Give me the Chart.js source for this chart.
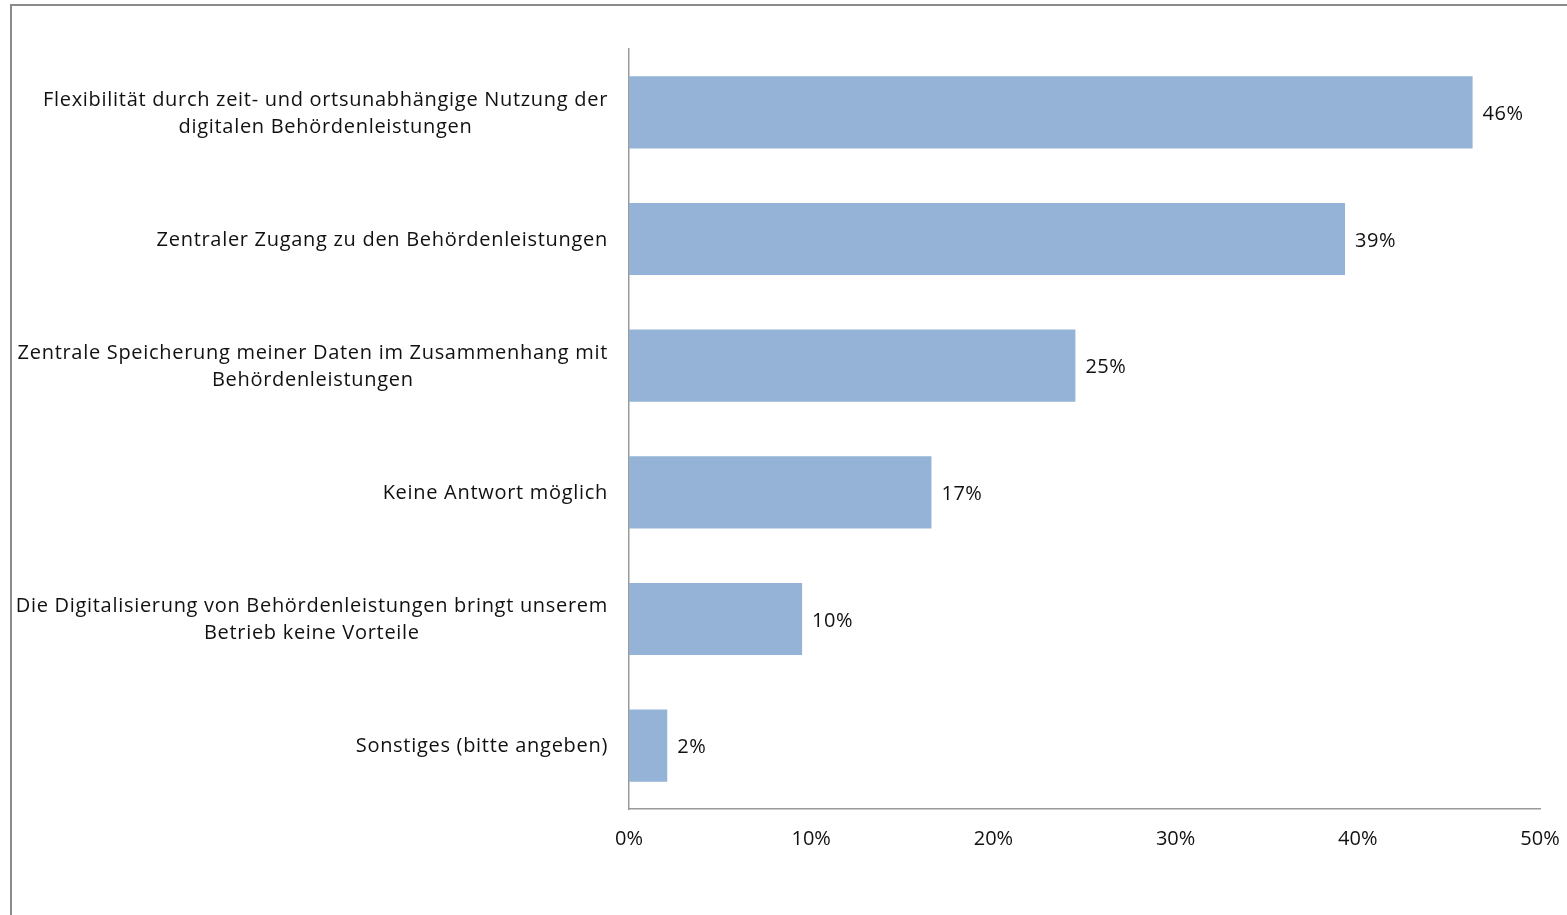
<!DOCTYPE html>
<html lang="de">
<head>
<meta charset="utf-8">
<title>Vorteile digitaler Behördenleistungen</title>
<script src="https://cdn.jsdelivr.net/npm/chart.js@4/dist/chart.umd.min.js"></script>
<style>
  html, body { margin: 0; padding: 0; background: #fff; }
  #wrap { position: relative; width: 1567px; height: 915px; overflow: hidden; }
  #cadre {
    position: absolute; left: 10px; top: 4px; width: 1600px; height: 1000px;
    border-top: 2px solid #8a8a8a; border-left: 2px solid #8a8a8a;
  }
  #vorteileChart { position: absolute; left: 0; top: 0; }
</style>
</head>
<body>
<div id="wrap">
  <div id="cadre"></div>
  <canvas id="vorteileChart" width="1567" height="915"></canvas>
</div>
<script>
// ==========================
// Données : réponses en % (plusieurs réponses possibles)
// ==========================
const kategorien = [
  ["Flexibilität durch zeit- und ortsunabhängige Nutzung der", "digitalen Behördenleistungen"],
  ["Zentraler Zugang zu den Behördenleistungen"],
  ["Zentrale Speicherung meiner Daten im Zusammenhang mit", "Behördenleistungen"],
  ["Keine Antwort möglich"],
  ["Die Digitalisierung von Behördenleistungen bringt unserem", "Betrieb keine Vorteile"],
  ["Sonstiges (bitte angeben)"]
];
const anteile = [46.3, 39.3, 24.5, 16.6, 9.5, 2.1];
const achsenTicks = [0, 10, 20, 30, 40, 50];

const schrift = "'Open Sans', 'Noto Sans', sans-serif";
const textFarbe = "#111";

// ==========================
// Plugin : libellés des catégories (lignes centrées, bloc aligné à droite)
// ==========================
const kategorieLabels = {
  id: "kategorieLabels",
  afterDraw(chart) {
    const { ctx } = chart;
    const y = chart.scales.y;
    const rechts = chart.chartArea.left - 21;
    ctx.save();
    ctx.font = "20px " + schrift;
    ctx.letterSpacing = "0.7px";
    ctx.fillStyle = textFarbe;
    ctx.textAlign = "center";
    ctx.textBaseline = "middle";
    kategorien.forEach((zeilen, i) => {
      const breite = Math.max(...zeilen.map(z => ctx.measureText(z).width));
      const mitte = y.getPixelForTick(i) + 1;
      const x = rechts - breite / 2;
      const hoehe = 27;
      zeilen.forEach((z, j) => {
        ctx.fillText(z, x, mitte + (j - (zeilen.length - 1) / 2) * hoehe);
      });
    });
    ctx.restore();
  }
};

// ==========================
// Plugin : valeurs au bout des barres
// ==========================
const wertLabels = {
  id: "wertLabels",
  afterDatasetsDraw(chart) {
    const { ctx } = chart;
    const meta = chart.getDatasetMeta(0);
    ctx.save();
    ctx.font = "20px " + schrift;
    ctx.letterSpacing = "0.5px";
    ctx.fillStyle = textFarbe;
    ctx.textAlign = "left";
    ctx.textBaseline = "middle";
    meta.data.forEach((bar, i) => {
      ctx.fillText(Math.round(anteile[i]) + "%", bar.x + 10, bar.y + 2);
    });
    ctx.restore();
  }
};

// ==========================
// Graph
// ==========================
new Chart(document.getElementById("vorteileChart"), {
  type: "bar",
  data: {
    labels: kategorien,
    datasets: [{
      data: anteile,
      backgroundColor: "#95b3d7",
      barPercentage: 0.57,
      categoryPercentage: 1
    }]
  },
  options: {
    indexAxis: "y",
    responsive: false,
    animation: false,
    layout: { padding: { top: 49, right: 27, left: 0, bottom: 0 } },
    plugins: { legend: { display: false }, tooltip: { enabled: false } },
    scales: {
      x: {
        min: 0,
        max: 50,
        afterBuildTicks: s => { s.ticks = achsenTicks.map(v => ({ value: v })); },
        afterFit: s => { s.height = 106; s.paddingLeft = 0; s.paddingRight = 0; },
        grid: { display: false, drawTicks: false },
        border: { display: true, color: "#9a9a9a", width: 1.5 },
        ticks: {
          padding: 18,
          color: textFarbe,
          font: { family: schrift, size: 20 },
          callback: v => v + "%"
        }
      },
      y: {
        afterFit: s => { s.width = 629; },
        grid: { display: false, drawTicks: false },
        border: { display: true, color: "#9a9a9a", width: 1.5 },
        ticks: { color: "rgba(0,0,0,0)", font: { size: 1 } }
      }
    }
  },
  plugins: [kategorieLabels, wertLabels]
});
</script>
</body>
</html>
